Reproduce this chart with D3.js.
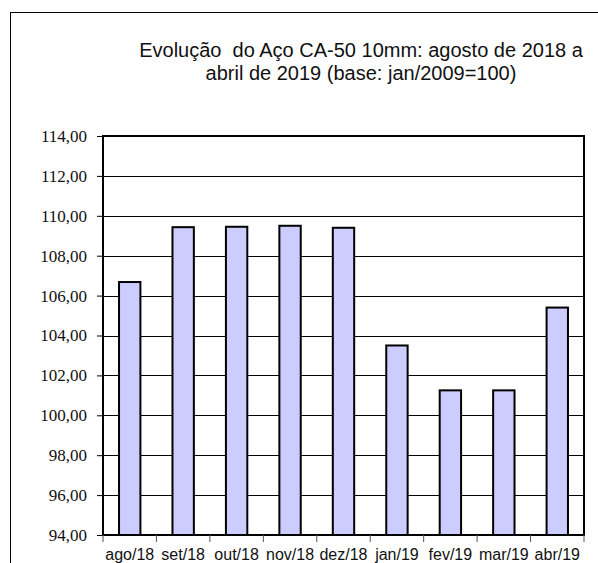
<!DOCTYPE html>
<html>
<head>
<meta charset="utf-8">
<script src="https://cdn.jsdelivr.net/npm/d3@7"></script>
<style>
	html, body { margin: 0; padding: 0; background: #fff; overflow: hidden; }
</style>
</head>
<body>
<div id="chart"></div>
<script>
const months = ['ago/18', 'set/18', 'out/18', 'nov/18', 'dez/18', 'jan/19', 'fev/19', 'mar/19', 'abr/19'];
const indexValues = [106.68, 109.43, 109.45, 109.50, 109.40, 103.50, 101.25, 101.25, 105.40];
const yTicks = [94, 96, 98, 100, 102, 104, 106, 108, 110, 112, 114];
const titleLines = ['Evolução\u00a0 do Aço CA-50 10mm: agosto de 2018 a', 'abril de 2019 (base: jan/2009=100)'];

const W = 598;
const H = 563;
const margin = { top: 136, right: 14, bottom: 28, left: 103 };
const width = W - margin.left - margin.right;
const height = H - margin.top - margin.bottom;

const svg = d3
	.select('#chart')
	.append('svg')
	.attr('width', W)
	.attr('height', H);

// outer frame (runs off the right and bottom of the picture)
svg
	.append('rect')
	.attr('x', 10.5)
	.attr('y', 12.5)
	.attr('width', W + 20)
	.attr('height', H + 20)
	.style('fill', 'none')
	.style('stroke', '#000')
	.style('stroke-width', 1);

// title
svg
	.append('text')
	.attr('x', 362)
	.attr('y', 57)
	.attr('text-anchor', 'middle')
	.style('font-family', 'Arial, "Liberation Sans", sans-serif')
	.style('font-size', '20px')
	.style('fill', '#111')
	.selectAll('tspan')
	.data(titleLines)
	.join('tspan')
	.attr('x', 361)
	.attr('dy', (d, i) => (i === 0 ? 0 : 23))
	.text((d) => d);

const g = svg.append('g').attr('transform', `translate(${margin.left}, ${margin.top})`);

const xScale = d3.scaleBand().domain(months).range([ 0, width ]).paddingInner(0.6).paddingOuter(0.3);
const xBounds = d3.scaleLinear().domain([ 0, months.length ]).range([ 0, width ]);
const yScale = d3.scaleLinear().domain([ 94, 114 ]).range([ height, 0 ]);

// gridlines
g
	.append('g')
	.selectAll('line')
	.data(yTicks)
	.join('line')
	.attr('x1', 0)
	.attr('x2', width)
	.attr('y1', (d) => Math.round(yScale(d)) + 0.5)
	.attr('y2', (d) => Math.round(yScale(d)) + 0.5)
	.style('stroke', '#000')
	.style('stroke-width', 1);

// bars
g
	.append('g')
	.selectAll('rect')
	.data(indexValues)
	.join('rect')
	.attr('x', (d, i) => xScale(months[i]))
	.attr('y', (d) => yScale(d))
	.attr('width', xScale.bandwidth())
	.attr('height', (d) => height - yScale(d))
	.style('fill', '#ccccff')
	.style('stroke', '#000')
	.style('stroke-width', 2);

// plot border
g
	.append('rect')
	.attr('x', 0)
	.attr('y', 0)
	.attr('width', width)
	.attr('height', height)
	.style('fill', 'none')
	.style('stroke', '#000')
	.style('stroke-width', 2);

// y axis
const yAxis = g
	.append('g')
	.call(d3.axisLeft(yScale).tickValues(yTicks).tickSize(6).tickPadding(10)
		.tickFormat((d) => d.toFixed(2).replace('.', ',')));
yAxis.select('.domain').remove();
yAxis.selectAll('.tick line').style('stroke', '#000');
yAxis
	.selectAll('text')
	.style('font-family', '"Liberation Serif", serif')
	.style('font-size', '17px')
	.style('fill', '#111');

// x axis: ticks at category boundaries
const xAxis = g.append('g').attr('transform', `translate(0, ${height})`);
xAxis
	.selectAll('line')
	.data(d3.range(months.length + 1))
	.join('line')
	.attr('x1', (d) => xBounds(d))
	.attr('x2', (d) => xBounds(d))
	.attr('y1', 0)
	.attr('y2', 7)
	.style('stroke', '#555')
	.style('stroke-width', 1);
xAxis
	.selectAll('text')
	.data(months)
	.join('text')
	.attr('x', (d) => xScale(d) + xScale.bandwidth() / 2)
	.attr('y', 25)
	.attr('text-anchor', 'middle')
	.style('font-family', 'Arial, "Liberation Sans", sans-serif')
	.style('font-size', '16px')
	.style('fill', '#111')
	.text((d) => d);
</script>
</body>
</html>
